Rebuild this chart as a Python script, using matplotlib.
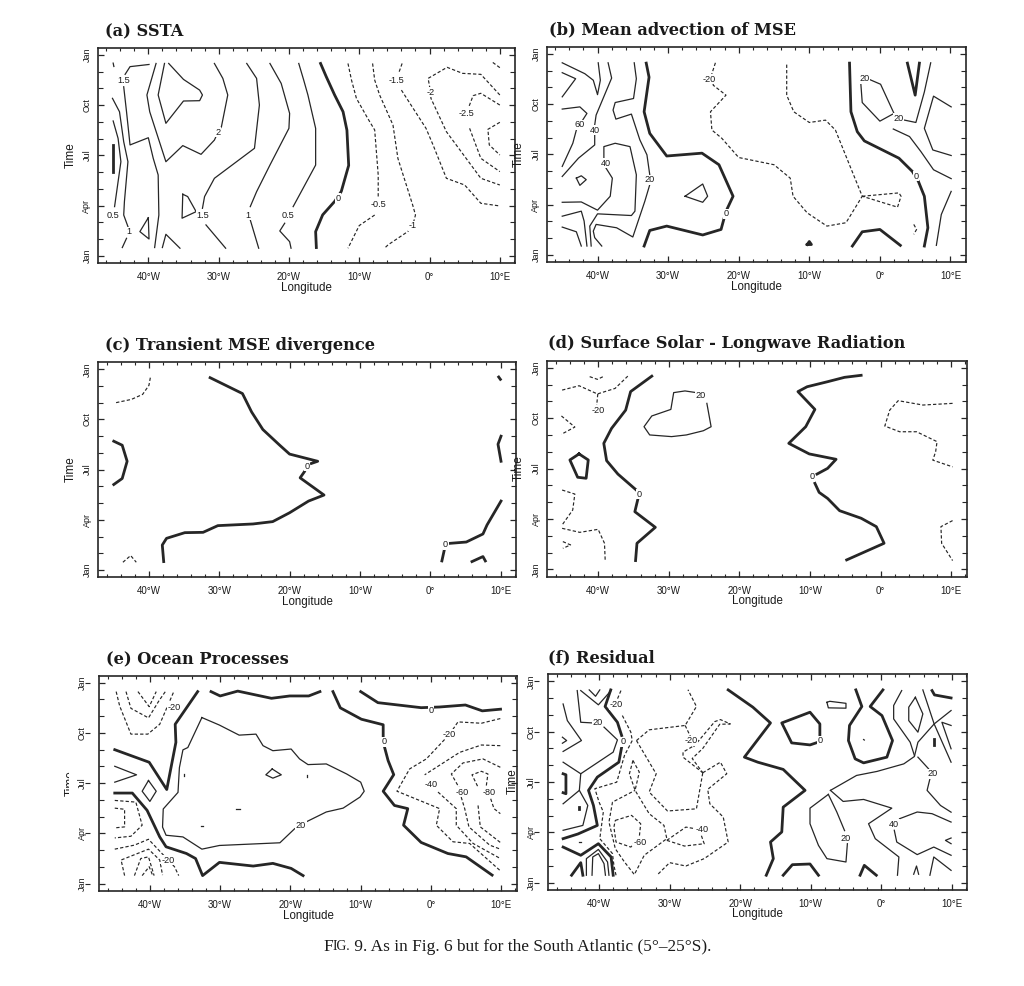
import matplotlib
matplotlib.use("Agg")
import matplotlib.pyplot as plt
from matplotlib.ticker import MultipleLocator, FixedLocator, FixedFormatter
from matplotlib.transforms import Bbox, blended_transform_factory

plt.rcParams['font.family'] = ['Liberation Sans', 'DejaVu Sans']

W, H = 1024, 986
LON_TICKS = [-40, -30, -20, -10, 0, 10]
LON_LABELS = ["40°W", "30°W", "20°W", "10°W", "0°", "10°E"]
TIME_TICKS = [0, 3, 6, 9, 12]
TIME_LABELS = ["Jan", "Apr", "Jul", "Oct", "Jan"]
TITLES = ["(a) SSTA", "(b) Mean advection of MSE", "(c) Transient MSE divergence",
          "(d) Surface Solar - Longwave Radiation", "(e) Ocean Processes", "(f) Residual"]

# Contours: (longitude in degrees, month since January)
A_HEAVY = [
 [(-15.5,11.48),(-14.7,10.7),(-13.5,9.6),(-12.3,8.6),(-11.75,7.5),(-11.5,5.4),(-12.55,3.85),(-13.5,3.25),(-15.2,2.45),(-16.2,1.45),(-16.1,.5)],
 [(-45,6.6),(-45,5.0)],
]
A_THIN = [
 [(-45,8.05),(-44.3,7.01),(-43.9,5.62),(-44.3,4.43),(-44.8,2.94)],
 [(-45.1,9.4),(-44.1,8.6),(-43.5,6.81),(-42.9,5.62),(-43.4,3.24),(-43.5,2.44),(-42.9,1.75)],
 [(-43.1,1.05),(-43.7,.5)],
 [(-39.9,11.42),(-42.6,11.29),(-43.3,10.83)],
 [(-43.5,10.09),(-43.1,8.6),(-42.6,6.62),(-40,7.05),(-39.3,5.82),(-38.6,4.83),(-38.5,2.44),(-39.1,.5)],
 [(-38.9,11.48),(-40.2,9.6),(-39.8,8.6),(-37.5,5.62),(-35.1,6.58),(-32.5,6.06),(-30.6,6.91),(-30.1,7.37),(-29.6,7.71),(-28.7,9.6),(-29.4,10.59),(-30.6,11.48)],
 [(-37.7,11.48),(-38.6,9.6),(-37.5,7.91),(-35,9.24),(-32.7,9.26),(-32.3,9.6),(-32.7,9.89),(-35,10.53),(-37.1,11.48)],
 [(-26,11.48),(-24.6,10.59),(-24.2,9),(-24.9,6.42),(-30.6,4.63),(-32,3.54),(-32.3,2.84)],
 [(-31.8,1.85),(-29,.46)],
 [(-22.7,11.48),(-21.1,10.29),(-19.9,8.5),(-20,7.61),(-22.7,5.42),(-24.6,3.83),(-25.5,2.94)],
 [(-25.5,2.15),(-24.3,.46)],
 [(-18.6,11.48),(-17.9,10.49),(-17.3,9.6),(-16.2,7.61),(-16.2,5.42),(-19.4,2.94)],
 [(-20.6,1.95),(-21.3,1.49),(-19.9,.85),(-19.7,.46)],
 [(-40,2.28),(-41.2,1.45),(-39.9,1.01),(-40,2.28)],
 [(-38,.5),(-37.5,1.29),(-35.5,.46)],
 [(-35.1,3.68),(-34.4,3.54),(-33.2,2.64),(-35.2,2.25),(-35.1,3.68)],
 [(-45,11.5),(-44.9,11.3)],
]
A_DASH = [
 [(-11.6,11.48),(-11.1,10.49),(-10.4,9.4),(-8.8,8.21),(-7.8,7.51),(-7.3,4.83),(-7.3,3.54)],
 [(-7.8,2.44),(-10,1.81),(-11.6,.46)],
 [(-8.1,11.48),(-7.8,10.49),(-7.1,9.6),(-5.2,7.81),(-4.5,5.82),(-2.4,3.04),(-2,2.44),(-2.4,1.81),(-3.1,1.45),(-5.9,.66),(-6.3,.5)],
 [(-3.9,11.48),(-4.4,10.89)],
 [(-4,9.89),(-.5,7.61),(.5,6.62),(2.4,4.63),(5,4.23),(7.3,3.14),(10,2.98)],
 [(10,9.6),(7.3,10.83),(4.7,10.89),(2.5,11.25),(-.2,10.59),(.1,9.89),(.2,9.4),(2.4,7.41),(4.5,6.22),(7.3,4.63),(10,4.23)],
 [(10,9),(7.3,9.7),(6.2,9.56),(5.6,8.9)],
 [(5.7,7.61),(7.3,5.82),(10,5.03)],
 [(10,7.97),(8.3,7.55),(8.5,6.62),(10,6.02)],
 [(9,11.54),(10,11.23)],
]
A_LABELS = [(-43.5,10.45,"1.5"),(-45,2.44,"0.5"),(-42.7,1.45,"1"),(-32.3,2.44,"1.5"),(-25.8,2.44,"1"),
            (-20.1,2.44,"0.5"),(-13,3.45,"0"),(-7.3,3.08,"-0.5"),(-2.4,1.8,"-1"),(-4.7,10.49,"-1.5"),
            (.1,9.76,"-2"),(5.3,8.5,"-2.5"),(-30.1,7.37,"2")]

B_HEAVY = [
 [(-33.1,11.44),(-32.7,10.6),(-33.4,8.54),(-32.6,7.25),(-30.2,5.9),(-25.2,6.07),(-22.8,5.38),(-20.8,3.5),(-21.8,2.6),(-22.5,1.52),(-25.1,1.19),(-30.2,1.72),(-32.6,1.46),(-33.4,.53)],
 [(-4.3,11.44),(-4.1,8.54),(-3.2,7.35),(-2.2,6.8),(2.7,5.77),(4.6,4.98),(5.45,4.39),(6.3,3.5),(6.8,1.62),(6.3,.53)],
 [(3.9,11.44),(5.0,9.53),(5.6,11.44)],
 [(-3.9,.53),(-2.5,1.38),(0,1.52),(2.9,.57)],
 [(-10.3,.62),(-10,.8),(-9.7,.62),(-10.3,.62)],
]
B_THIN = [
 [(-45,11.46),(-41.8,10.81),(-40.6,10.42),(-40,9.56),(-39.6,10.42),(-39.9,11.46)],
 [(-45,10.87),(-43.1,10.51),(-45,9.43)],
 [(-38.5,11.46),(-38,10.55),(-40.2,8.34),(-40.4,7.75),(-40.4,7.14),(-40.4,6.56),(-42.7,5.77),(-45,4.68)],
 [(-45,8.7),(-42.5,8.83),(-41.5,8.44),(-42.4,7.85),(-43,7.45),(-43.5,6.66),(-45,5.28)],
 [(-34.8,11.46),(-34.5,10.51),(-34.9,9.33),(-37.5,9.09),(-37.8,8.64),(-37.4,8.1),(-35.2,8.4),(-34,6.86),(-33,5.97),(-32.6,4.78),(-32.6,4.19),(-33.3,3.2),(-35,1.07),(-37.3,1.62),(-40.2,1.82),(-40.6,1.42),(-40.4,1.03),(-39.4,.53)],
 [(-45,3.14),(-42.3,3.16),(-40,2.67),(-38.2,3.5),(-37.9,4.58),(-39.1,5.38),(-39.1,6.46),(-37.5,6.66),(-35.4,6.46),(-34.5,4.78),(-34.7,2.61),(-35.2,2.35),(-40,2.45),(-41.1,1.72),(-40.9,.53)],
 [(-45,2.31),(-42.3,2.61),(-41.9,2.02),(-41.5,.53)],
 [(-45,1.66),(-43,1.38),(-42.3,.53)],
 [(-43,4.58),(-42.3,4.72),(-41.6,4.49),(-42.5,4.15),(-43,4.58)],
 [(-27.6,3.5),(-25.1,4.23),(-24.4,3.5),(-25.1,3.14),(-27.6,3.5)],
 [(-2.7,10.22),(-2.5,9.09),(0,7.98),(2,8.44),(.1,10.18),(-1.5,10.47)],
 [(7.2,11.46),(6.3,9.72),(5.1,7.9),(3.5,8.04)],
 [(1.9,7.51),(4.2,7.06),(5.8,6.17),(7.6,5.08),(10.1,4.55)],
 [(10.1,8.83),(7.6,9.47),(6.3,7.55),(7.5,6.26),(10.1,5.93)],
 [(8,.57),(8.7,2.41),(10.1,3.79)],
]
B_DASH = [
 [(-23.3,11.46),(-23.8,10.81),(-23.6,10.12),(-21.8,9.53),(-24,8.54),(-23.8,7.45),(-22.4,6.96),(-20,5.81),(-15,5.38),(-12.7,4.58),(-12.3,3.5),(-10.3,2.51),(-7.5,1.72),(-4.8,1.92),(-2.5,3.5),(-4.4,5.47),(-6.3,7.45),(-7.7,8.04),(-10,7.9),(-12.2,8.54),(-13.2,9.53),(-13.2,11.46)],
 [(-2.5,3.5),(2.7,3.7),(3,3.5),(2.5,2.85),(-2.5,3.5)],
 [(4.8,1.82),(5.2,1.52),(4.8,1.23)],
]
B_LABELS = [(-24.2,10.47,"-20"),(-42.5,7.75,"60"),(-40.4,7.45,"40"),(-38.8,5.47,"40"),(-32.6,4.49,"20"),
            (-21.8,2.45,"0"),(5.1,4.7,"0"),(-2.2,10.51,"20"),(2.6,8.14,"20")]

C_HEAVY = [
 [(-31.3,11.5),(-26.7,10.55),(-25.4,9.45),(-23.8,8.4),(-21.4,7.46),(-20,6.93),(-16,6.5),(-16.9,6.37)],
 [(-17.9,5.87),(-18.5,5.51),(-15.1,4.48),(-17.3,4.12),(-20,3.42),(-22.4,2.89),(-25.2,2.75),(-30.2,2.65),(-32.3,2.25),(-34.9,2.23),(-37.5,1.89),(-38.1,1.49),(-37.9,.5)],
 [(-45,7.7),(-43.8,7.46),(-43.1,6.5),(-43.8,5.47),(-45,5.11)],
 [(10.07,8.0),(9.64,7.52),(10.07,6.5)],
 [(10.07,4.12),(8.08,2.69),(7.5,2.15),(5.13,1.67),(2.76,1.59)],
 [(2.0,1.19),(1.66,.54)],
 [(5.94,.5),(7.5,.8),(7.84,.54)],
 [(9.74,11.54),(9.98,11.4)],
]
C_THIN = []
C_DASH = [
 [(-39.8,11.5),(-40,11.04),(-40.9,10.5),(-42.5,10.2),(-44.75,10.0)],
 [(-43.7,.46),(-42.6,.86),(-41.8,.46)],
]
C_LABELS = [(-17.5,6.2,"0"),(2.2,1.5,"0")]

D_HEAVY = [
 [(-32.4,11.5),(-35.4,10.58),(-36.1,9.48),(-38.1,8.39),(-39.2,7.5),(-38.8,6.47),(-37.2,5.67),(-34.6,4.72)],
 [(-34.4,4.13),(-34.8,3.43),(-31.9,2.5),(-34.5,1.55),(-34.7,.52)],
 [(-2.75,11.55),(-5.1,11.43),(-7.5,11.17),(-10.4,10.87),(-11.7,10.58),(-9.3,9.52),(-10.6,8.49),(-13,7.5),(-10.1,6.87),(-6.3,6.55),(-7.5,6.01),(-9,5.67)],
 [(-9.3,5.12),(-8.7,4.58),(-7.5,4.22),(-5.8,3.49),(-2.75,3.04),(-.6,2.54),(.5,1.55),(-4.8,.56)],
 [(-42.7,6.87),(-41.4,6.51),(-41.7,5.42),(-42.9,5.48),(-44,6.51),(-42.7,6.87)],
]
D_THIN = [
 [(-26.1,10.52),(-27.7,10.62),(-29.3,10.52),(-29.7,9.52),(-32.4,9.13),(-33.5,8.49),(-32.7,8),(-29.6,7.9),(-27.5,8),(-25.1,8.25),(-24,8.49),(-24.6,9.88)],
]
D_DASH = [
 [(-45.1,10.67),(-42.7,10.93),(-40.1,10.44),(-37.6,10.77),(-35.8,11.5)],
 [(-41.2,11.47),(-40.1,11.31),(-39.3,11.47)],
 [(-40.05,10.44),(-40.2,9.78)],
 [(-45.2,9.13),(-43.3,8.47),(-45.2,8.04)],
 [(-45.1,4.72),(-43.3,4.48),(-43.6,3.53),(-45.1,2.64)],
 [(-45.1,2.44),(-42.6,2.2),(-40,2.38),(-39.1,1.55),(-39,.52)],
 [(-45,1.65),(-43.9,1.45),(-45,1.25)],
 [(10.2,9.88),(6,9.78),(2.5,10.04),(1.3,9.48),(.6,8.53),(2.7,8.19),(5.1,8.19),(8,7.6),(7.8,7),(7.4,6.5),(10.2,6.1)],
 [(10.2,2.9),(8.55,2.54),(8.65,1.55),(10.2,.52)],
]
D_LABELS = [(-34.2,4.48,"0"),(-9.7,5.5,"0"),(-25.5,10.32,"20"),(-40.05,9.48,"-20")]

E_HEAVY = [
 [(-33.2,11.47),(-36.4,9.52),(-36.3,8.44),(-37.6,5.62),(-40.1,7.25),(-45,8.0)],
 [(-45,5.41),(-42.5,5.41),(-40.4,4.38),(-38.6,2.79),(-37.7,2.2),(-34.8,1.8),(-33.5,1.5),(-32.5,.48),(-30.1,1.27),(-25.3,1.05),(-22.5,1.21),(-19.9,.91),(-18.2,.48)],
 [(-31.3,11.47),(-30,11.21),(-27.5,11.5),(-22.7,11.07),(-20.1,11.21),(-17.4,11.21),(-15.8,11.47)],
 [(-13.95,11.47),(-12.9,10.5),(-9.9,9.82),(-6.8,9.49),(-6.8,8.73),(-6.6,8.14),(-6.1,7.35),(-5.3,6.51),(-6.8,5.52),(-5.2,4.67),(-3.3,4.48),(-3.9,3.49),(-1.4,2.46),(2.4,1.8),(5,1.6),(8.7,.51)],
 [(-10,11.47),(-7.55,10.81),(-1.4,10.51),(1.2,10.55),(4.9,10.67),(7.3,10.32),(9.9,10.42)],
]
E_THIN = [
 [(-32.6,9.92),(-30.1,9.47),(-27.3,8.87),(-24.9,8.93),(-23.9,8.24),(-22.5,7.94),(-19.9,8.04),(-18.7,7.45),(-17.5,7.11),(-14.9,7.15),(-12,6.55),(-10,6.06),(-9.5,5.52),(-10.1,5.17),(-12.5,4.51),(-14.9,4.28),(-17.8,3.68),(-19.4,3.28),(-21.5,2.44),(-30.1,2.28),(-32.6,2.06),(-35.3,2.79),(-37.7,2.89),(-38.2,3.38),(-38.1,4.46),(-36,5.45),(-35.8,6.93),(-35.3,7.99),(-34.6,8.13),(-32.6,9.92)],
 [(-40.2,6.16),(-39.1,5.52),(-40,4.91),(-41.1,5.52),(-40.2,6.16)],
 [(-45,7.01),(-41.9,6.5),(-45,6.06)],
 [(-22.6,6.85),(-21.3,6.5),(-22.5,6.3),(-23.5,6.5),(-22.6,6.85)],
 [(-35.1,6.55),(-35.1,6.42)],
 [(-17.6,6.5),(-17.6,6.38)],
 [(-27.8,4.48),(-27.2,4.48)],
 [(-32.7,3.47),(-32.45,3.47)],
]
E_DASH = [
 [(-44.8,11.47),(-44.3,10.61),(-42.7,8.93),(-40.3,8.93),(-38.6,9.52),(-36.6,11.47)],
 [(-43.4,11.47),(-42.7,10.47),(-40.2,9.9),(-38.7,10.93),(-37.8,11.47)],
 [(-41.7,11.47),(-40.1,10.57),(-39.1,11.47)],
 [(-45,4.97),(-42,4.87),(-41.1,3.49),(-42.7,2.83),(-45,2.73)],
 [(-45,4.51),(-43.6,4.44),(-43.6,3.39),(-45,3.33)],
 [(-45,2.06),(-42.2,2.3),(-40.2,2.65),(-36.5,1.01),(-35.9,.48)],
 [(-43.6,.48),(-44.1,1.41),(-40.2,2.06),(-38.6,1.41),(-38.2,.51)],
 [(-42.2,.48),(-41.3,1.5),(-40.2,1.6),(-39.4,.48)],
 [(-41.1,.48),(-40.1,1.01),(-39.6,.48)],
 [(9.87,9.86),(7.17,9.58),(3.84,9.66),(2.66,8.93),(-.66,7.45),(-3.04,6.85),(-4.84,5.52),(1.23,4.48),(.76,3.49),(3.13,2.5),(5.5,2.4),(9.87,.77)],
 [(9.87,8.24),(7.17,8.28),(4.08,7.84),(-.9,6.5)],
 [(1,5.47),(3.6,4.48),(3.6,3.49),(6,2.4),(9.87,1.5)],
 [(9.87,6.95),(7.4,7.45),(4.56,7.21),(2.9,6.55),(4.1,5.66)],
 [(4.3,5.17),(4.8,4.48),(5.4,3.39),(8.35,2.3),(9.87,2.06)],
 [(7.88,5.86),(8.1,6.55),(7.17,6.71),(5.84,6.5),(6.7,5.76)],
 [(8.5,5.07),(8.97,4.48),(9.87,4.18)],
 [(6.7,4.67),(7.02,3.39),(9.87,2.46)],
]
E_LABELS = [(-36.5,10.55,"-20"),(-37.4,1.41,"-20"),(-18.5,3.49,"20"),(-6.7,8.47,"0"),(0,10.36,"0"),
            (2.66,8.93,"-20"),(.05,5.92,"-40"),(4.5,5.47,"-60"),(8.35,5.47,"-80")]

F_HEAVY = [
 [(-38.35,11.49),(-39.15,10.5),(-37.4,9.56),(-36.8,8.77)],
 [(-36.8,8.08),(-37.2,7.18),(-40.25,6.29),(-41.5,5.5),(-40.8,4.6),(-40.25,3.41),(-43,2.9),(-45.1,2.62)],
 [(-45.1,6.49),(-44.7,6.43),(-44.7,5.3),(-45.1,5.36)],
 [(-45.1,2.12),(-42.6,1.63),(-40.1,2.32),(-38.3,1.53),(-38,.44)],
 [(-43.9,.44),(-42.6,1.19),(-42.3,.44)],
 [(-21.7,11.49),(-18.2,10.46),(-15.7,9.52),(-19.4,7.48),(-17.5,7.18),(-13.9,6.75),(-10.8,5.5),(-13.9,4.5),(-14.1,3.02),(-15.7,2.42),(-15.3,1.43),(-16.3,.44)],
 [(-13.9,.44),(-12.6,1.07),(-10.1,1.11),(-8.9,.44)],
 [(-9.1,8.35),(-10.1,8.21),(-12.7,8.33),(-14.1,9.52),(-10.1,10.16),(-8.7,9.46),(-8.7,8.7)],
 [(-3.6,11.49),(-2.75,10.5),(-4.5,9.37),(-4.65,8.47),(-3.7,7.38),(-2.5,7.14),(.8,7.48),(1.6,8.47),(.1,9.96),(-1.57,10.5),(.24,11.49)],
 [(-3,.44),(-2.4,1.03),(-.7,.44)],
 [(7.2,11.45),(7.55,11.19),(9.9,11.01)],
 [(7.55,8.57),(7.55,8.21)],
 [(-42.8,4.48),(-42.8,4.4)],
]
F_THIN = [
 [(-43.1,11.45),(-42.6,9.56),(-40.9,9.52)],
 [(-39.3,9.27),(-37.4,8.51),(-38,7.78),(-42.6,6.49),(-45.1,7.18)],
 [(-42.6,6.49),(-42.8,5.5),(-41.6,4.6),(-42.3,3.41),(-45.1,3.12)],
 [(-42.8,5.5),(-45.1,4.7)],
 [(-45.1,10.65),(-44.5,9.66),(-42.5,8.47),(-45.1,7.82)],
 [(-42.6,11.45),(-40.1,10.6),(-38.3,11.45)],
 [(-41.4,11.49),(-40.5,11.11),(-39.9,11.49)],
 [(-45.2,8.67),(-44.6,8.47),(-45.2,8.31)],
 [(-41.8,.44),(-41.8,1.43),(-40.1,1.98),(-38.8,1.23),(-38.6,.44)],
 [(-41,.44),(-40.9,1.53),(-40.1,1.73),(-39.3,1.13),(-39.1,.44)],
 [(-7.7,10.75),(-7.3,10.81),(-5,10.69),(-5,10.4),(-7.5,10.42),(-7.7,10.75)],
 [(-7.2,5.5),(-3.5,6.39),(-.6,6.63),(3.2,7.08),(4.7,7.52),(5.2,8.37),(7.5,9.46),(9.9,10.26)],
 [(-7.2,5.5),(-5.4,4.84),(-2.5,4.96),(1.5,4.44),(-1.8,3.51),(-.85,2.62),(2.5,1.53),(2.3,.44)],
 [(-7.5,5.26),(-10.1,4.44),(-10.1,3.51),(-8.9,2.22),(-7.7,1.43),(-5,1.23),(-4.8,2.32)],
 [(-5.2,3.1),(-6.3,4.21),(-7.5,5.26)],
 [(2.6,3.81),(5.1,4.21),(7.2,4.11),(9.9,3.61)],
 [(1.85,3.12),(2.2,2.42),(5.1,1.67),(7.45,2.12),(9.9,1.63)],
 [(5.2,7.48),(6.7,6.79)],
 [(6.9,6.19),(6.5,5.5),(8.4,4.6),(9.9,4.2)],
 [(9.9,2.66),(9.1,2.52),(9.9,2.32)],
 [(4.6,.5),(5,.99),(5.3,.5)],
 [(6.9,.44),(7.45,1.53),(9.9,.73)],
 [(2.9,11.45),(1.76,10.56),(1.76,9.76),(4.1,8.37),(4.7,7.58)],
 [(4.84,11.05),(3.9,10.46),(3.9,9.66),(5.2,8.97),(5.9,10.06),(4.84,11.05)],
 [(5.9,11.49),(7.5,9.46),(9.9,7.18)],
 [(9.9,9.37),(8.6,9.56),(9.9,7.98)],
 [(-2.5,8.53),(-2.4,8.5)],
 [(-42.9,2.42),(-42.5,2.42)],
]
F_DASH = [
 [(-36.9,11.45),(-37.5,10.85)],
 [(-36.7,9.96),(-35.5,8.97),(-35.3,8.47),(-36.4,7.58),(-37.5,5.99),(-40.6,5.6),(-40,4.8),(-39.4,4.21),(-39.9,2.62),(-38.1,1.73),(-37.9,1.03),(-37.6,.44)],
 [(-34.7,8.47),(-32.9,9.11),(-27.8,9.37),(-26.2,10.5),(-27.4,11.5)],
 [(-34.7,8.47),(-32.2,6.69),(-31.9,6.49),(-32.9,5.4),(-30.3,4.27),(-26.2,4.4),(-25.3,6.55)],
 [(-27.8,9.37),(-27,8.67)],
 [(-26.8,8.1),(-28.1,7.78),(-28.1,7.48),(-25.3,6.55)],
 [(-26.6,8.1),(-23.6,9.6),(-22.8,9.72),(-21.4,9.46),(-22.9,9.44),(-25.3,8.0),(-26.8,7.4),(-25.3,6.55)],
 [(-25.3,6.55),(-22.8,7.18),(-21.9,6.49),(-24.6,5.56),(-24.3,4.7),(-22.4,3.91),(-21.7,2.42),(-25.1,1.43),(-27.7,.99),(-30,1.19),(-31.8,.44)],
 [(-35.2,7.28),(-35.7,6.49),(-34.9,5.5),(-32.9,4.11),(-30.8,3.41),(-30.4,2.62),(-33.6,1.63),(-35,.48),(-36.4,1.23),(-37.7,2.02),(-38.6,3.61),(-38.1,4.8),(-34.9,5.5)],
 [(-35.2,7.28),(-34.3,6.59),(-34.9,5.5)],
 [(-37.7,3.71),(-35.4,4.01),(-34.1,3.51),(-34.3,2.72),(-35.5,2.12),(-37.6,2.42),(-37.9,3.31),(-37.7,3.71)],
 [(-30.4,2.52),(-27.7,3.31),(-25.8,3.17),(-25.1,2.32),(-27.9,2.18),(-30.4,2.52)],
]
F_LABELS = [(-37.6,10.6,"-20"),(-40.2,9.56,"20"),(-36.6,8.4,"0"),(-27,8.47,"-20"),(-25.4,3.15,"-40"),
            (-34.2,2.42,"-60"),(-8.7,8.47,"0"),(7.26,6.49,"20"),(-5,2.66,"20"),(1.85,3.47,"40")]

# Panel boxes in pixels: left, right, top, bottom
BOXES = [(97.7,515.3,47.7,263.3),(546.7,966,46.7,262.3),(98.3,516,362.3,577.3),
         (547.3,966.7,360.7,576.7),(99.3,516.7,675.7,891),(548.3,967.3,674.3,890)]
PANELS = [(A_HEAVY,A_THIN,A_DASH,A_LABELS),(B_HEAVY,B_THIN,B_DASH,B_LABELS),(C_HEAVY,C_THIN,C_DASH,C_LABELS),
          (D_HEAVY,D_THIN,D_DASH,D_LABELS),(E_HEAVY,E_THIN,E_DASH,E_LABELS),(F_HEAVY,F_THIN,F_DASH,F_LABELS)]
TITLE_POS = [(105,32),(549,30),(105,345.5),(548,344),(106,659.5),(548,657.5)]
TIME_X = [70.5,519,70.5,519,None,513]
YPAD = [4.5,4.5,4.5,4.5,9,9]
INK = '#262626'

fig = plt.figure(figsize=(W/100, H/100), dpi=100)

def polyline(ax, pts, **kw):
    ax.plot([p[0] for p in pts], [p[1] for p in pts], color=INK, solid_joinstyle='round', **kw)

for i, (box, data) in enumerate(zip(BOXES, PANELS)):
    l, r, t, b = box
    ax = fig.add_axes([l/W, 1-b/H, (r-l)/W, (b-t)/H])
    heavy, thin, dash, labels = data
    for p in heavy:
        polyline(ax, p, lw=2.0)
    for p in thin:
        polyline(ax, p, lw=0.9)
    for p in dash:
        polyline(ax, p, lw=0.85, dashes=(2.8, 1.8))
    for x, y, s in labels:
        ax.text(x, y, s, fontsize=6.6, ha='center', va='center', color='#1a1a1a', zorder=5,
                bbox=dict(fc='white', ec='none', pad=0.3))
    ax.set_xlim(-47.2, 12.2)
    ax.set_ylim(-0.44, 12.42)
    ax.xaxis.set_major_locator(FixedLocator(LON_TICKS))
    ax.xaxis.set_major_formatter(FixedFormatter(LON_LABELS))
    ax.xaxis.set_minor_locator(MultipleLocator(2))
    ax.yaxis.set_major_locator(FixedLocator(TIME_TICKS))
    ax.yaxis.set_major_formatter(FixedFormatter(TIME_LABELS))
    ax.yaxis.set_minor_locator(MultipleLocator(1))
    ax.tick_params(which='major', direction='in', length=4, width=0.9, top=True, right=True, color=INK)
    ax.tick_params(axis='x', which='minor', direction='in', length=2.2, width=0.8, top=True, color=INK)
    ax.tick_params(axis='y', which='minor', direction='in', length=3.4, width=0.8, right=True, color=INK)
    ax.tick_params(axis='x', which='major', labelsize=7, pad=6.5, labelcolor='#1a1a1a')
    ax.tick_params(axis='y', which='major', labelsize=6.5, pad=YPAD[i], labelcolor='#1a1a1a')
    for lab in ax.get_yticklabels():
        lab.set_rotation(90)
        lab.set_va('center')
    for s in ax.spines.values():
        s.set_linewidth(1.2)
        s.set_color(INK)
    if i >= 4:
        # the lower panels carry a short stray tick beside each month label
        tr = blended_transform_factory(ax.transAxes, ax.transData)
        ax.hlines(TIME_TICKS, -14/(r-l), -9/(r-l), transform=tr, color=INK, lw=0.8, clip_on=False)
    fig.text((l+r)/2/W, 1-(b+24.5)/H, "Longitude", fontsize=8.3, ha='center', va='center', color='#1a1a1a')
    if TIME_X[i] is not None:
        fig.text(TIME_X[i]/W, 1-(t+107)/H, "Time", fontsize=8.5, rotation=90, ha='center', va='center', color='#1a1a1a')
    else:
        # panel (e): the axis title is cut away in the scan, only its edge shows
        tm = fig.text(70.5/W, 1-(t+107)/H, "Time", fontsize=8.5, rotation=90, ha='center', va='center', color='#1a1a1a')
        tm.set_clip_box(Bbox([[0, 0], [68.5, H]]))
        tm.set_clip_on(True)
    tx, ty = TITLE_POS[i]
    fig.text(tx/W, 1-ty/H, TITLES[i], fontsize=11.7, family='DejaVu Serif', weight='bold',
             ha='left', va='center', color='#1a1a1a')

cap_y = 1-945/H
fig.canvas.draw()
rend = fig.canvas.get_renderer()
xpos = 323/W
for s, fs in [("F", 12.4), ("IG.", 9.8), (" 9. As in Fig. 6 but for the South Atlantic (5°–25°S).", 12.4)]:
    tt = fig.text(xpos, cap_y, s, fontsize=fs, family='Liberation Serif', ha='left', va='center_baseline', color='#1a1a1a')
    xpos = tt.get_window_extent(rend).x1/W

fig.savefig("out.png", dpi=100)
